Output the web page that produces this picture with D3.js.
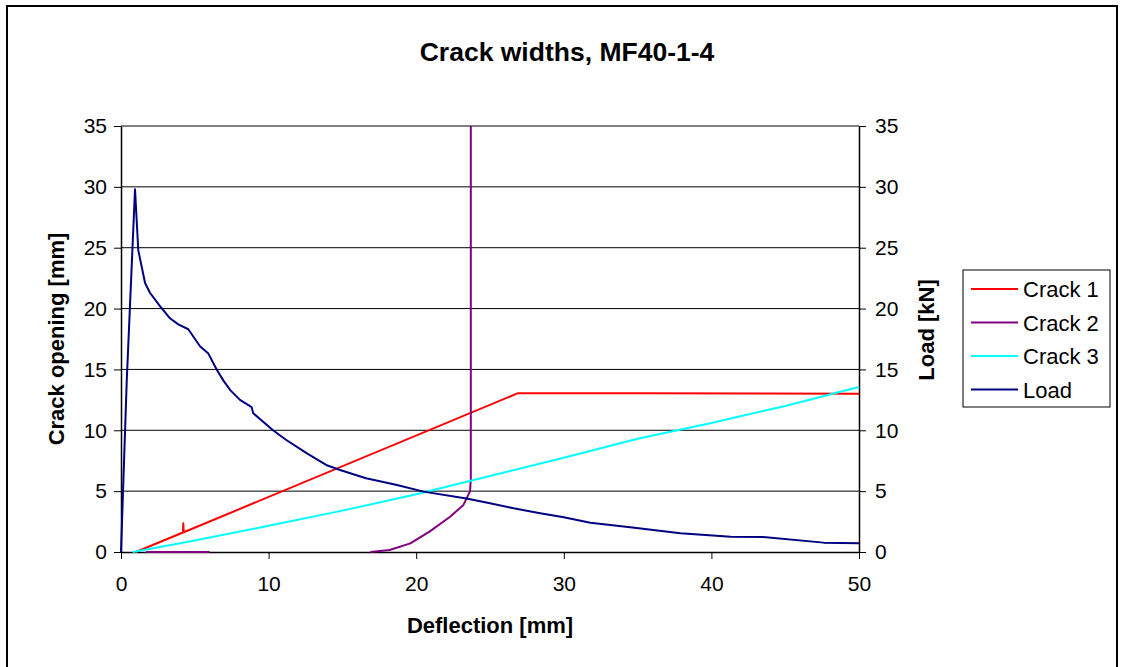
<!DOCTYPE html>
<html>
<head>
<meta charset="utf-8">
<script src="https://cdn.jsdelivr.net/npm/d3@7"></script>
<style>
  body { margin: 0; background: #fff; }
  text { font-family: "Liberation Sans", Arial, sans-serif; }
</style>
</head>
<body>
<div id="chart"></div>
<script>
// values
var title = "Crack widths, MF40-1-4";
var xTicks = [0, 10, 20, 30, 40, 50];
var yTicks = [0, 5, 10, 15, 20, 25, 30, 35];

var crack1 = [[1.0, 0], [4.2, 1.6], [4.22, 2.36], [4.25, 1.62], [26.9, 13.05], [35, 13.05], [50, 13.0]];
var crack2 = [[1.7, 0], [6.0, 0], [6.01, null], [16.9, 0], [18.2, 0.16], [19.6, 0.71], [20.9, 1.67],
  [22.3, 2.9], [23.2, 3.87], [23.65, 5.0], [23.7, 6.0], [23.7, 35]];
var crack3 = [[0.8, 0], [5, 0.95], [10, 2.15], [15, 3.4], [20, 4.75], [25, 6.25], [30, 7.75],
  [35, 9.3], [40, 10.6], [45, 12.0], [50, 13.55]];
var load = [[0, 0], [0.39, 14.1], [0.95, 29.8], [1.17, 24.8], [1.63, 22.1], [1.96, 21.3], [2.64, 20.2],
  [3.32, 19.2], [3.88, 18.7], [4.56, 18.3], [5.35, 16.9], [5.92, 16.3], [6.48, 15.0], [6.93, 14.1],
  [7.4, 13.3], [8.06, 12.5], [8.85, 11.9], [8.96, 11.4], [10.3, 10.0], [11.2, 9.2], [12.6, 8.1],
  [13.9, 7.15], [14.84, 6.74], [16.6, 6.06], [18.7, 5.5], [20.5, 4.96], [23.4, 4.4], [25.0, 4.0],
  [26.6, 3.59], [28.4, 3.18], [30.0, 2.85], [31.8, 2.4], [34.5, 2.03], [37.9, 1.54], [41.3, 1.26],
  [43.7, 1.22], [47.6, 0.77], [50, 0.72]];

var seriesNames = ["Crack 1", "Crack 2", "Crack 3", "Load"];
var seriesColors = ["#ff0000", "#800080", "#00ffff", "#000080"];
var seriesData = [crack1, crack2, crack3, load];

var W = 1121, H = 667;
var svg = d3.select("#chart").append("svg").attr("width", W).attr("height", H);

// outer frame
svg.append("rect").attr("x", 7).attr("y", 6).attr("width", 1110).attr("height", 680)
  .attr("fill", "none").attr("stroke", "#000").attr("stroke-width", 2);

var x = d3.scaleLinear().domain([0, 50]).range([121, 859]);
var y = d3.scaleLinear().domain([0, 35]).range([552, 126]);   // crack opening
var y2 = d3.scaleLinear().domain([0, 35]).range([552, 126]);  // load

// gridlines
svg.append("g").selectAll("line").data(yTicks.slice(1)).enter().append("line")
  .attr("x1", x(0)).attr("x2", x(50))
  .attr("y1", function(d){ return y(d); }).attr("y2", function(d){ return y(d); })
  .attr("stroke", "#000").attr("stroke-width", 1);

function styleAxis(g) {
  g.selectAll("path").attr("stroke", "#000").attr("stroke-width", 1.5);
  g.selectAll("line").attr("stroke", "#000");
  g.selectAll("text").attr("font-size", 21).attr("fill", "#000")
    .style("font-family", "Liberation Sans, Arial, sans-serif");
}

svg.append("g").attr("transform", "translate(0," + y(0) + ")")
  .call(d3.axisBottom(x).tickValues(xTicks).tickSize(7).tickSizeOuter(0).tickPadding(17))
  .call(styleAxis);
svg.append("g").attr("transform", "translate(" + x(0) + ",0)")
  .call(d3.axisLeft(y).tickValues(yTicks).tickSize(7).tickSizeOuter(0).tickPadding(7))
  .call(styleAxis);
svg.append("g").attr("transform", "translate(" + x(50) + ",0)")
  .call(d3.axisRight(y2).tickValues(yTicks).tickSize(7).tickSizeOuter(0).tickPadding(9))
  .call(styleAxis);

// series
seriesData.forEach(function(data, i) {
  var gen = d3.line()
    .defined(function(d){ return d[1] !== null; })
    .x(function(d){ return x(d[0]); })
    .y(function(d){ return (i === 3 ? y2 : y)(d[1]); });
  svg.append("path").datum(data).attr("d", gen)
    .attr("fill", "none").attr("stroke", seriesColors[i]).attr("stroke-width", 2)
    .attr("stroke-linejoin", "round");
});

// titles
svg.append("text").attr("x", 567).attr("y", 61).attr("text-anchor", "middle")
  .attr("font-size", 26.5).attr("font-weight", "bold").text(title);
svg.append("text").attr("x", 490).attr("y", 633).attr("text-anchor", "middle")
  .attr("font-size", 22).attr("font-weight", "bold").text("Deflection [mm]");
svg.append("text").attr("transform", "translate(64,339) rotate(-90)").attr("text-anchor", "middle")
  .attr("font-size", 22).attr("font-weight", "bold").text("Crack opening [mm]");
svg.append("text").attr("transform", "translate(934,330) rotate(-90)").attr("text-anchor", "middle")
  .attr("font-size", 22).attr("font-weight", "bold").text("Load [kN]");

// legend
var lg = svg.append("g");
lg.append("rect").attr("x", 963).attr("y", 270).attr("width", 147).attr("height", 137)
  .attr("fill", "#fff").attr("stroke", "#000").attr("stroke-width", 1);
var items = lg.selectAll("g.item").data(seriesNames).enter().append("g")
  .attr("transform", function(d, i){ return "translate(0," + (289 + i * 33.5) + ")"; });
items.append("line").attr("x1", 971).attr("x2", 1018).attr("y1", 0).attr("y2", 0)
  .attr("stroke", function(d, i){ return seriesColors[i]; }).attr("stroke-width", 2);
items.append("text").attr("x", 1023).attr("y", 8).attr("font-size", 22).text(function(d){ return d; });
</script>
</body>
</html>
